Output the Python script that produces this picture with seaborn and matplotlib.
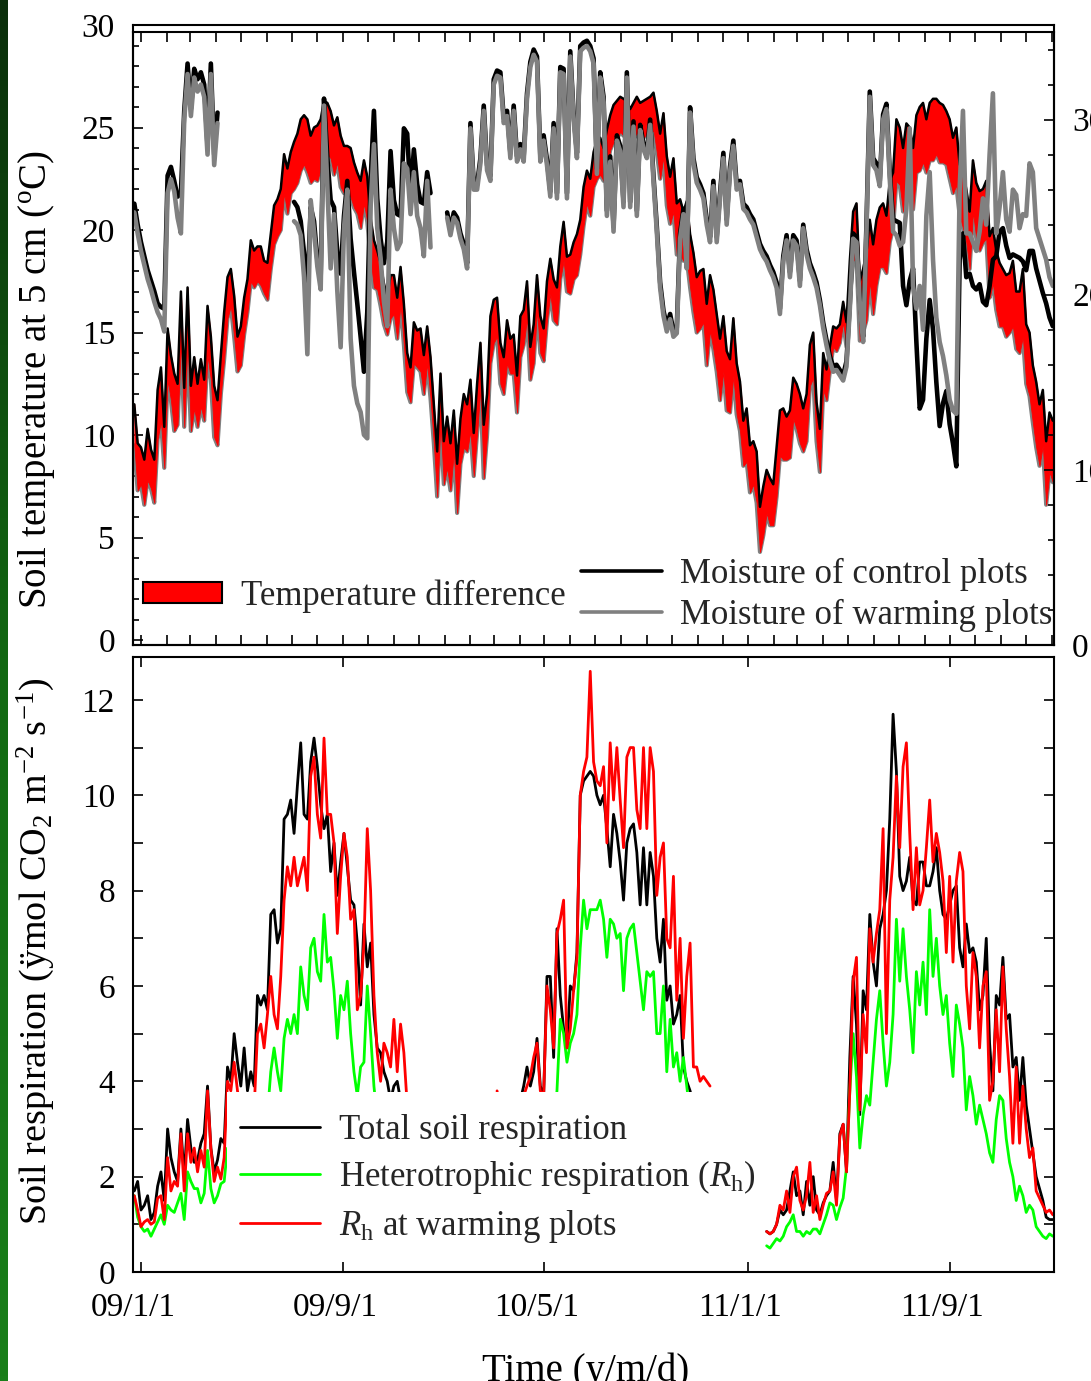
import numpy as np
import pandas as pd
import matplotlib
matplotlib.use("Agg")
import matplotlib.pyplot as plt
import matplotlib.dates as mdates
from matplotlib.ticker import MultipleLocator, NullFormatter
from matplotlib.patches import Patch, Rectangle
from matplotlib.lines import Line2D
from matplotlib.transforms import ScaledTranslation
from matplotlib.colors import LinearSegmentedColormap
import seaborn as sns

nan = np.nan

# ---------------- data (sampled every 4 days from 2008-12-24) ----------------
grid_start = "2008-12-24"
step = "4D"

# soil temperature at 5 cm, warming plots (upper edge of band), deg C
temp_warm = [
    11.5, 9.6, 9.4, 8.8, 10.3, 9.3, 8.8, 12.2, 13.3, 10.4,
    15.2, 13.9, 13.0, 12.5, 17.0, 12.3, 17.2, 12.4, 13.8, 12.5,
    13.7, 12.7, 16.3, 14.8, 12.4, 11.7, 13.9, 16.0, 17.7, 18.1,
    16.8, 14.8, 15.3, 16.7, 17.6, 19.5, 19.0, 19.2, 19.2, 18.5,
    18.4, 19.8, 21.2, 21.5, 22.0, 23.7, 23.0, 23.8, 24.3, 24.7,
    25.4, 25.6, 25.4, 24.6, 25.0, 25.1, 25.4, 26.3, 26.2, 25.8,
    25.1, 25.5, 24.6, 24.1, 24.1, 24.0, 23.3, 22.8, 22.4, 23.4,
    22.6, 20.6, 19.5, 19.0, 18.4, 17.4, 16.7, 17.8, 17.8, 16.7,
    18.2, 16.4, 14.0, 13.3, 15.5, 15.1, 15.2, 13.9, 15.3, 13.8,
    11.5, 9.2, 13.0, 9.7, 10.9, 9.6, 11.2, 8.6, 10.8, 12.0,
    11.5, 12.7, 10.1, 12.5, 14.5, 10.5, 12.0, 15.8, 16.6, 16.7,
    14.5, 13.8, 15.6, 14.7, 14.9, 12.9, 15.8, 16.1, 17.5, 14.3,
    15.4, 17.8, 15.8, 15.2, 17.5, 18.6, 17.6, 17.2, 19.2, 20.4,
    18.7, 18.8, 19.4, 19.8, 20.5, 22.1, 22.9, 22.5, 23.8, 24.4,
    24.5, 24.0, 24.9, 25.6, 26.1, 26.3, 26.5, 26.4, 26.3, 25.9,
    26.2, 26.5, 26.2, 26.3, 26.4, 26.5, 26.7, 25.8, 24.7, 25.7,
    23.6, 22.6, 23.5, 21.3, 21.5, 20.9, 21.4, 19.8, 18.9, 17.7,
    18.0, 18.1, 16.4, 17.8, 17.1, 15.9, 14.7, 15.8, 14.1, 13.7,
    15.7, 13.5, 12.6, 10.7, 11.3, 9.5, 9.7, 9.2, 6.5, 7.5,
    8.3, 7.9, 7.6, 9.4, 11.2, 11.3, 10.9, 11.2, 12.8, 12.5,
    12.0, 11.3, 12.0, 14.4, 15.0, 11.6, 10.3, 14.0, 13.2, 14.3,
    15.3, 15.2, 15.4, 16.5, 15.5, 18.5, 20.9, 21.3, 17.5, 18.1,
    18.9, 20.5, 19.3, 20.5, 21.1, 21.3, 20.7, 22.4, 22.8, 25.4,
    25.0, 24.0, 25.2, 25.0, 24.0, 25.6, 26.0, 26.2, 25.4, 26.2,
    26.4, 26.4, 26.2, 26.1, 25.8, 25.4, 24.5, 25.0, 23.2, 22.8,
    22.0, 20.9, 23.4, 22.3, 21.9, 22.0, 22.4, 19.7, 20.1, 19.0,
    18.4, 18.1, 17.8, 17.9, 18.5, 17.0, 17.0, 18.1, 15.4, 15.0,
    13.4, 12.6, 11.5, 12.2, 9.7, 11.1, 10.7,
]

# temperature difference, warming minus control, deg C
temp_diff = [
    2.0, 2.3, 1.8, 2.2, 2.5, 1.9, 2.1, 2.4, 2.6, 2.0,
    2.5, 2.2, 2.8, 2.0, 2.4, 1.9, 2.6, 2.2, 2.5, 2.1,
    2.3, 2.0, 2.4, 2.1, 2.5, 2.2, 1.9, 2.3, 2.0, 1.8,
    2.0, 1.7, 1.9, 1.8, 1.6, 2.0, 1.8, 1.7, 1.9, 1.6,
    1.8, 1.7, 1.9, 1.8, 2.0, 1.9, 2.2, 2.0, 2.3, 2.4,
    2.5, 2.4, 2.6, 2.3, 2.5, 2.7, 2.4, 2.6, 2.5, 2.3,
    2.4, 2.2, 2.5, 2.3, 2.1, 2.4, 2.2, 2.0, 2.3, 2.1,
    2.2, 2.0, 2.3, 1.9, 2.1, 2.0, 1.8, 2.1, 1.9, 2.0,
    1.8, 2.0, 1.9, 1.7, 2.0, 1.8, 2.1, 1.9, 1.8, 2.0,
    1.9, 2.2, 2.4, 2.1, 2.5, 2.3, 2.0, 2.4, 2.2, 2.6,
    2.3, 2.5, 2.1, 2.4, 2.2, 2.6, 2.0, 2.3, 2.1, 1.9,
    2.0, 1.8, 2.1, 1.7, 1.9, 1.8, 2.0, 1.7, 1.8, 1.6,
    1.9, 1.7, 1.8, 1.6, 1.9, 1.7, 2.0, 1.8, 1.6, 1.9,
    1.7, 1.9, 1.8, 2.0, 1.7, 1.9, 1.6, 1.8, 1.7, 1.9,
    1.8, 1.6, 1.9, 1.7, 1.8, 1.9, 1.7, 1.8, 1.6, 1.9,
    1.8, 1.7, 1.9, 1.8, 1.7, 1.9, 1.8, 2.0, 2.2, 2.1,
    2.4, 2.3, 2.6, 2.5, 2.7, 2.4, 2.8, 2.6, 2.9, 2.7,
    2.8, 2.6, 3.0, 2.7, 2.9, 2.8, 3.0, 2.7, 2.9, 2.6,
    2.8, 2.5, 2.4, 2.2, 2.6, 2.3, 2.1, 2.5, 2.2, 2.4,
    2.1, 2.3, 2.0, 2.4, 2.2, 2.5, 2.1, 2.3, 2.0, 2.2,
    2.4, 2.1, 2.3, 2.0, 2.2, 1.9, 2.1, 1.8, 1.5, 1.2,
    1.0, 1.1, 0.9, 1.0, 1.2, 1.8, 2.4, 2.6, 2.9, 3.1,
    3.3, 3.0, 3.4, 3.2, 2.9, 3.1, 2.8, 3.0, 2.7, 3.0,
    2.8, 3.1, 2.9, 2.7, 3.0, 2.8, 3.1, 2.9, 2.6, 2.8,
    3.0, 2.7, 2.9, 2.8, 2.6, 2.9, 2.7, 2.8, 2.5, 2.7,
    2.6, 2.8, 2.5, 2.7, 2.9, 2.6, 2.8, 3.0, 2.7, 2.9,
    3.1, 2.8, 3.0, 2.9, 3.2, 2.8, 3.0, 3.3, 2.9, 3.1,
    2.8, 3.2, 3.0, 2.7, 3.1, 2.9, 3.0,
]

# soil moisture (%), control plots
moist_ctrl = (
    [25.2, 24.0, 23.0, 22.2, 21.4, 20.8, 20.2, 19.5, 19.3, 19.2,
     26.8, 27.3, 26.5, 25.6, 25.8, 30.5, 33.2, 30.6, 32.9, 32.3,
     32.7, 32.0, 28.5, 33.2, 28.0, 30.4]
    + [nan] * 22
    + [25.3, 25.0, 24.2, 22.4, 20.2, 25.0, 24.2, 22.0, 21.0, 31.2,
       27.8, 25.4, 25.0, 22.4, 21.2, 24.5, 26.5, 23.2, 21.3, 19.5,
       17.6, 15.6, 19.0, 26.5, 30.5, 25.5, 23.2, 21.8, 23.0, 28.2,
       25.4, 24.6, 24.5, 29.5, 29.2, 25.6, 28.3, 26.3, 25.3, 25.2, 27.0, 25.8]
    + [nan] * 4
    + [24.7, 23.7, 24.7, 24.4, 23.5, 22.9, 21.8, 29.8, 26.3, 26.3,
       27.8, 30.8, 27.4, 26.8, 32.3, 32.8, 32.7, 30.1, 30.5, 28.1,
       30.8, 27.9, 28.6, 27.9, 31.5, 33.3, 34.0, 33.6, 27.9, 29.1,
       27.7, 25.9, 29.8, 25.8, 33.0, 32.9, 25.8, 33.9, 30.3, 28.1,
       34.2, 34.4, 34.5, 34.2, 33.5, 27.2, 32.7, 31.3, 24.8, 27.9,
       23.9, 29.1, 28.5, 25.3, 32.7, 25.3, 29.9, 24.8, 29.7, 28.6,
       28.1, 30.0, 26.8, 23.9, 20.7, 19.1, 18.2, 18.9, 17.9, 18.1,
       23.5, 24.9, 21.8, 30.7, 27.8, 26.7, 26.3, 25.8, 24.3, 23.3,
       26.5, 23.3, 25.8, 28.1, 24.3, 27.3, 28.8, 26.3,
       26.5, 25.2, 25.0, 24.6, 24.3, 23.6, 22.9, 22.5, 22.2, 21.7,
       21.3, 20.7, 19.2, 22.2, 23.4, 21.3, 23.4, 23.1, 20.8, 24.0,
       22.6, 21.8, 21.3, 20.7, 19.7, 18.4, 17.4, 16.5, 15.9, 16.0,
       15.7, 15.4, 16.2, 19.5, 23.5, 23.3, 19.8, 17.6, 24.0, 31.6,
       27.8, 27.5, 26.5, 30.3, 30.9, 27.0, 24.3, 24.2, 24.1, 20.5,
       19.4, 20.8, 21.5, 17.3, 13.5, 14.0, 17.5, 19.7, 18.0, 15.0,
       12.5, 13.8, 14.5, 12.6, 11.5, 10.2, 22.0, 23.5, 21.0, 21.2,
       20.5, 20.3, 20.6, 19.6, 19.4, 20.5, 22.0, 22.2, 23.6, 23.8,
       22.8, 22.1, 22.3, 22.2, 22.1, 21.9, 21.4, 22.5, 22.5, 21.5,
       20.8, 20.1, 19.5, 18.7, 18.2]
)

# soil moisture (%), warming plots
moist_warm = (
    [24.7, 23.5, 22.5, 21.7, 20.9, 20.3, 19.6, 19.0, 18.6, 17.9,
     25.8, 26.6, 25.9, 24.4, 23.5, 30.0, 32.6, 30.2, 32.4, 31.6,
     32.0, 31.3, 28.0, 32.6, 27.4, 29.8]
    + [nan] * 22
    + [24.2, 24.0, 23.4, 21.0, 16.6, 25.4, 23.6, 21.6, 20.3, 30.8,
       26.2, 21.5, 24.6, 20.2, 17.0, 23.8, 26.0, 17.5, 14.8, 13.8,
       13.3, 12.0, 11.8, 25.0, 28.6, 23.8, 22.1, 19.6, 18.2, 26.0,
       23.8, 22.6, 23.0, 27.5, 27.2, 24.6, 27.0, 24.5, 23.8, 22.2, 26.5, 22.7]
    + [nan] * 4
    + [24.4, 23.4, 24.4, 24.1, 23.2, 22.6, 21.5, 29.5, 26.0, 26.0,
       27.5, 30.5, 27.1, 26.5, 32.0, 32.5, 32.4, 29.8, 30.2, 27.8,
       30.5, 27.6, 28.3, 27.6, 31.2, 33.0, 33.7, 33.3, 27.6, 28.8,
       27.4, 25.6, 29.5, 25.5, 32.7, 32.6, 25.5, 33.6, 30.0, 27.8,
       33.9, 34.1, 34.2, 33.9, 33.2, 26.9, 32.4, 31.0, 24.5, 27.6,
       23.6, 28.8, 28.2, 25.0, 32.4, 25.0, 29.6, 24.5, 29.4, 28.3,
       27.8, 29.7, 26.5, 23.6, 20.4, 18.8, 17.9, 18.6, 17.6, 17.8,
       23.2, 24.6, 21.5, 30.4, 27.5, 26.4, 26.0, 25.5, 24.0, 23.0,
       26.2, 23.0, 25.5, 27.8, 24.0, 27.0, 28.5, 26.0,
       26.3, 24.9, 24.7, 24.3, 24.0, 23.3, 22.6, 22.2, 21.9, 21.4,
       21.0, 20.4, 18.9, 21.9, 23.1, 21.0, 23.1, 22.8, 20.5, 23.8,
       22.3, 21.5, 21.0, 20.4, 19.4, 18.1, 17.1, 16.2, 15.6, 15.7,
       15.4, 15.1, 15.9, 19.2, 23.2, 23.0, 19.5, 17.3, 23.6, 31.3,
       27.4, 27.1, 26.2, 30.0, 30.6, 26.6, 23.6, 23.4, 22.8, 23.0,
       24.9, 29.5, 20.5, 19.2, 20.5, 18.0, 24.5, 27.0, 22.0, 18.7,
       17.3, 16.5, 15.4, 14.0, 13.4, 13.2, 26.0, 30.5, 23.5, 23.5,
       23.0, 22.5, 23.6, 25.5, 24.0, 28.0, 31.5, 23.5, 25.0, 27.0,
       24.3, 23.6, 26.0, 25.7, 23.8, 24.6, 24.5, 27.5, 27.0, 23.8,
       23.2, 22.6, 22.0, 21.0, 20.5]
)

# soil respiration (umol CO2 m-2 s-1), three measuring campaigns
resp_starts = ["2008-12-24", "2010-03-05", "2011-01-23"]

total_09 = [1.7, 1.9, 1.3, 1.4, 1.6, 1.1, 1.25, 1.8, 2.1, 1.5,
            3.0, 2.4, 2.1, 1.9, 3.0, 2.0, 3.2, 2.6, 2.3, 2.35,
            2.7, 2.9, 3.9, 2.6, 2.1, 2.35, 2.8, 2.7, 4.3, 4.0,
            5.0, 4.4, 3.9, 4.7, 3.8, 4.2, 3.9, 5.8, 5.6, 5.8,
            5.5, 7.5, 7.6, 6.9, 7.2, 9.5, 9.6, 9.9, 9.2, 10.2,
            11.1, 9.6, 9.5, 10.7, 11.2, 10.6, 9.8, 9.3, 9.6, 8.4,
            9.0, 7.9, 8.6, 9.2, 8.5, 7.8, 7.7, 6.9, 5.6, 7.3,
            6.4, 6.9, 5.4, 4.7, 4.6, 4.2, 4.0, 3.6, 3.9, 4.0,
            3.6, 3.7, 3.5]
rh_09 = [1.6, 1.15, 0.95, 0.85, 0.9, 0.75, 0.9, 1.05, 1.2, 1.0,
         1.4, 1.3, 1.25, 1.45, 1.65, 1.1, 2.1, 1.9, 1.75, 1.75,
         1.45, 1.65, 2.55, 1.75, 1.45, 1.6, 1.85, 1.9, 2.6, 2.4,
         2.9, 2.6, 2.4, 2.8, 2.5, 2.7, 2.6, 3.4, 3.2, 3.5,
         3.3, 4.2, 4.7, 4.2, 3.8, 4.9, 5.3, 5.0, 5.4, 5.0,
         6.4, 5.8, 5.5, 6.8, 7.0, 6.3, 6.1, 7.5, 6.5, 6.6,
         5.9, 4.9, 5.8, 5.5, 6.1, 5.0, 4.2, 3.7, 4.3, 4.4,
         6.0, 5.0, 3.9, 3.2, 3.0, 3.3, 3.1, 2.9, 3.4, 2.8,
         3.3, 3.0, 2.6]
rhw_09 = [1.6, 1.3, 0.95, 1.05, 1.1, 1.0, 1.05, 1.55, 1.6, 1.1,
          2.4, 1.7, 1.9, 1.8, 2.9, 1.7, 2.9, 2.3, 2.6, 2.1,
          2.55, 2.2, 3.8, 2.6, 1.9, 2.2, 1.95, 2.4, 4.0, 3.8,
          4.4, 3.8, 3.4, 3.6, 3.3, 3.5, 3.4, 5.0, 5.2, 4.7,
          5.4, 6.2, 5.4, 5.1, 6.2, 7.8, 8.5, 8.1, 8.7, 8.1,
          8.4, 8.7, 8.0, 10.4, 10.8, 9.6, 9.1, 11.2, 9.6, 9.6,
          9.0, 7.1, 8.3, 9.2, 8.7, 7.4, 7.6, 5.5, 5.8, 6.9,
          9.3, 8.0, 5.8, 4.6, 4.0, 4.8, 4.6, 4.3, 5.3, 4.2,
          5.2, 4.6, 3.5]

total_10 = [3.0, 3.4, 3.2, 3.6, 3.3, 3.5, 3.7, 3.6, 3.9, 4.3,
            3.9, 4.2, 4.9, 3.9, 3.7, 6.2, 6.2, 4.5, 7.2, 5.8,
            5.1, 4.7, 6.0, 5.9, 6.7, 10.0, 10.3, 10.4, 10.5, 10.4,
            10.0, 9.8, 10.0, 9.3, 8.5, 9.6, 9.2, 8.6, 7.8, 9.0,
            9.3, 9.4, 8.8, 7.7, 8.9, 7.7, 8.8, 8.3, 7.0, 6.5,
            7.4, 5.7, 6.0, 5.2, 5.4, 5.8, 4.3, 4.0, 3.8, 3.5,
            3.3, 3.4, 3.1, 3.2, 3.0]
rh_10 = [2.2, 2.5, 2.3, 2.6, 2.4, 2.5, 2.7, 2.6, 2.8, 3.0,
         2.9, 3.1, 3.4, 2.9, 2.8, 3.5, 3.3, 3.1, 3.8, 5.3,
         5.0, 4.4, 4.8, 5.0, 5.4, 6.8, 7.8, 7.2, 7.6, 7.6,
         7.6, 7.8, 7.4, 6.6, 7.4, 7.3, 7.0, 7.1, 5.9, 7.0,
         7.2, 7.3, 6.7, 6.1, 5.5, 6.3, 6.2, 6.3, 5.0, 5.0,
         6.0, 4.2, 5.3, 4.3, 4.6, 4.0, 4.5, 3.9, 3.3, 3.0,
         2.9, 2.7, 2.8, 2.6, 2.5]
rhw_10 = [3.8, 3.3, 3.0, 3.5, 3.2, 3.4, 3.6, 3.5, 3.7, 3.9,
          4.1, 4.5, 4.8, 3.8, 3.7, 6.0, 5.5, 4.7, 7.1, 7.4,
          7.8, 4.7, 5.1, 5.9, 6.6, 10.0, 10.5, 10.8, 12.6, 10.7,
          10.3, 10.2, 10.6, 9.0, 11.1, 9.9, 11.0, 9.9, 8.9, 10.8,
          11.0, 11.0, 9.7, 9.3, 11.0, 9.3, 11.0, 10.5, 7.9, 8.7,
          9.0, 7.0, 6.8, 8.3, 5.7, 7.0, 4.9, 6.2, 6.9, 4.3,
          4.3, 4.0, 4.1, 4.0, 3.9]

total_11 = [0.85, 0.8, 0.85, 1.0, 1.3, 1.2, 1.3, 1.7, 2.1, 1.6,
            1.7, 1.2, 1.9, 1.4, 2.0, 1.3, 1.2, 1.45, 1.6, 1.7,
            2.3, 1.5, 2.9, 3.1, 2.1, 4.5, 6.2, 5.2, 3.3, 5.9,
            5.5, 7.5, 6.5, 6.0, 7.2, 7.5, 8.0, 9.5, 11.7, 10.5,
            8.3, 8.0, 8.2, 8.7, 7.8, 7.7, 8.6, 8.6, 8.1, 8.1,
            8.4, 8.9, 8.0, 7.5, 7.4, 7.7, 8.0, 8.1, 6.8, 6.4,
            7.3, 6.7, 6.8, 6.5, 5.5, 5.8, 7.0, 4.8, 3.8, 5.8,
            5.6, 6.6, 5.3, 5.4, 4.3, 4.5, 3.6, 4.5, 3.5, 3.0,
            2.5, 2.0, 1.75, 1.5, 1.15, 1.1, 1.1]
rh_11 = [0.55, 0.5, 0.6, 0.7, 0.65, 0.75, 0.95, 1.05, 1.2, 0.85,
         0.85, 0.75, 0.85, 0.8, 0.9, 0.9, 0.8, 1.0, 1.2, 1.45,
         1.4, 1.1, 1.35, 1.55, 2.2, 3.8, 5.0, 4.1, 2.6, 3.3,
         3.7, 3.5, 4.4, 5.3, 5.9, 4.8, 3.9, 4.4, 5.4, 7.4,
         6.1, 7.2, 6.2, 5.5, 4.6, 6.3, 5.6, 6.5, 5.4, 7.6,
         6.2, 7.0, 6.0, 5.4, 5.8, 4.8, 4.1, 5.6, 5.2, 4.7,
         3.4, 4.1, 3.7, 3.1, 3.5, 3.2, 2.9, 2.5, 2.3, 3.2,
         3.7, 3.6, 2.8, 2.3, 2.0, 1.5, 1.8, 1.6, 1.25, 1.4,
         1.3, 0.95, 0.85, 0.75, 0.7, 0.8, 0.75]
rhw_11 = [0.85, 0.8, 0.85, 1.0, 1.4, 1.3, 1.7, 1.25, 2.0, 2.2,
          1.5, 1.3, 1.6, 2.3, 1.25, 1.6, 1.1, 1.4, 1.65, 1.7,
          2.1, 1.4, 2.85, 3.1, 2.1, 3.8, 6.1, 6.6, 3.4, 5.4,
          4.6, 7.2, 6.5, 7.1, 7.6, 9.3, 5.0, 7.8, 8.7, 10.4,
          8.9, 10.6, 11.1, 9.2, 7.6, 8.9, 7.7, 8.0, 8.9, 9.9,
          8.6, 9.2, 8.8, 8.2, 6.7, 8.3, 6.5, 8.2, 8.8, 8.4,
          6.0, 5.1, 6.7, 6.2, 4.7, 6.0, 6.3, 3.6, 4.0, 5.5,
          4.2, 6.4, 5.1, 4.1, 2.7, 4.3, 2.7, 3.9, 3.0, 2.4,
          2.6, 1.7, 1.55, 1.4, 1.25, 1.3, 1.2]

xtick_dates = ["2009-01-01", "2009-09-01", "2010-05-01", "2011-01-01", "2011-09-01"]
xtick_labels = ["09/1/1", "09/9/1", "10/5/1", "11/1/1", "11/9/1"]

# ---------------- style ----------------
sns.set_theme(style="white")
plt.rcParams["font.family"] = ["Liberation Serif", "DejaVu Serif"]
plt.rcParams["mathtext.fontset"] = "custom"
plt.rcParams["mathtext.rm"] = "Liberation Serif"
plt.rcParams["mathtext.it"] = "Liberation Serif:italic"
plt.rcParams["mathtext.bf"] = "Liberation Serif:bold"

FS = 24      # tick labels
FL = 25      # legend text
FA = 28      # axis titles
W, H = 1091, 1381
fig = plt.figure(figsize=(W / 100, H / 100), dpi=100)


def fx(px):
    return px / W


def fy(py):
    return 1 - py / H


L, R = 133, 1054
ax1 = fig.add_axes([fx(L), fy(645), (R - L) / W, (645 - 25) / H])
axr = fig.add_axes([fx(L), fy(645), (R - L) / W, (645 - 32) / H], sharex=ax1)
axr.patch.set_visible(False)
ax2 = fig.add_axes([fx(L), fy(1272), (R - L) / W, (1272 - 657) / H])

# ---------------- top panel: temperature ----------------
n = min(len(temp_warm), len(temp_diff))
tdates = pd.date_range(grid_start, periods=n, freq=step)
tw = np.array(temp_warm[:n], float)
tc = tw - np.array(temp_diff[:n], float)
df_t = pd.DataFrame({"date": tdates, "warm": tw, "ctrl": tc})

sns.lineplot(data=df_t, x="date", y="ctrl", color="#808080", lw=3.0, ax=ax1, legend=False, zorder=2)
ax1.fill_between(df_t["date"], df_t["ctrl"], df_t["warm"], facecolor="#ff0000",
                 edgecolor="#ff0000", lw=0.6, zorder=2.1)
sns.lineplot(data=df_t, x="date", y="warm", color="black", lw=1.8, ax=ax1, legend=False, zorder=2.2)

# moisture on the right axis
nm = min(len(moist_ctrl), len(moist_warm))
mdt = pd.date_range(grid_start, periods=nm, freq=step)
mc = np.array(moist_ctrl[:nm], float)
mw = np.array(moist_warm[:nm], float)
valid = ~np.isnan(mc) & ~np.isnan(mw)
seg = np.cumsum(np.r_[True, valid[1:] != valid[:-1]])
df_m = pd.DataFrame({"date": mdt, "ctrl": mc, "warm": mw, "seg": seg})[valid]
sns.lineplot(data=df_m, x="date", y="ctrl", units="seg", estimator=None, color="black",
             lw=3.3, ax=axr, legend=False)
sns.lineplot(data=df_m, x="date", y="warm", units="seg", estimator=None, color="#808080",
             lw=3.3, ax=axr, legend=False)

# ---------------- bottom panel: respiration ----------------
frames = []
for i, (st, tot, rh, rhw) in enumerate(zip(resp_starts, [total_09, total_10, total_11],
                                            [rh_09, rh_10, rh_11], [rhw_09, rhw_10, rhw_11])):
    m = min(len(tot), len(rh), len(rhw))
    frames.append(pd.DataFrame({"date": pd.date_range(st, periods=m, freq=step),
                                "total": tot[:m], "rh": rh[:m], "rhw": rhw[:m], "seg": i}))
df_r = pd.concat(frames, ignore_index=True)
for col, c in [("total", "black"), ("rh", "#00ff00"), ("rhw", "#ff0000")]:
    sns.lineplot(data=df_r, x="date", y=col, units="seg", estimator=None, color=c,
                 lw=2.0, ax=ax2, legend=False)

# ---------------- axes ----------------
x0 = pd.Timestamp("2008-12-22 10:00")
x1 = pd.Timestamp("2012-01-03 10:00")
ax1.set_xlim(x0, x1)
ax2.set_xlim(x0, x1)
ax1.set_ylim(-0.24, 30)
axr.set_ylim(0, 35.0)
ax2.set_ylim(0, 12.9)

ax1.xaxis.set_major_locator(mdates.MonthLocator())
ax1.xaxis.set_major_formatter(NullFormatter())
ax1.tick_params(axis="x", which="both", direction="in", bottom=True, top=False,
                labelbottom=False, labeltop=False, length=7.2, width=1.2, color="black")
axr.tick_params(axis="x", which="both", direction="in", bottom=False, top=True,
                labelbottom=False, labeltop=False, length=7.2, width=1.2, color="black")

ax1.yaxis.set_major_locator(MultipleLocator(5))
ax1.yaxis.set_minor_locator(MultipleLocator(1))
ax1.tick_params(axis="y", which="both", direction="in", left=True, right=False,
                labelsize=FS, pad=13, width=1.2, color="black", labelcolor="black")
ax1.tick_params(axis="y", which="major", length=7.2)
ax1.tick_params(axis="y", which="minor", length=4.3)

axr.yaxis.tick_right()
axr.yaxis.set_major_locator(MultipleLocator(10))
axr.yaxis.set_minor_locator(MultipleLocator(2))
axr.tick_params(axis="y", which="both", direction="in", left=False, right=True,
                labelleft=False, labelright=True, labelsize=FS, pad=13, width=1.2,
                color="black", labelcolor="black")
axr.tick_params(axis="y", which="major", length=7.2)
axr.tick_params(axis="y", which="minor", length=4.3)

ax2.set_xticks([mdates.date2num(pd.Timestamp(s)) for s in xtick_dates])
ax2.set_xticklabels(xtick_labels)
ax2.tick_params(axis="x", which="both", direction="in", top=True, bottom=True, length=7.2,
                width=1.2, labelsize=FS, pad=15, color="black", labelcolor="black")
ax2.yaxis.set_major_locator(MultipleLocator(2))
ax2.yaxis.set_minor_locator(MultipleLocator(1))
ax2.tick_params(axis="y", which="both", direction="in", left=True, right=True, length=7.2,
                width=1.2, labelsize=FS, pad=13, color="black", labelcolor="black")

offset = ScaledTranslation(-8 / 100, 0, fig.dpi_scale_trans)
for lab in ax2.get_xticklabels():
    lab.set_transform(lab.get_transform() + offset)

for ax in (ax1, axr, ax2):
    for s in ax.spines.values():
        s.set_color("black")
        s.set_linewidth(1.5)

ax1.set_xlabel("")
axr.set_xlabel("")
axr.set_ylabel("")
ax1.set_ylabel("Soil temperature at 5 cm ($^\\mathrm{o}$C)", fontsize=FA, color="black")
ax1.yaxis.set_label_coords((57 - L) / (R - L), (645 - 380) / 620)
ax2.set_ylabel("Soil respiration (ÿmol CO$_2$ m$^{-2}$ s$^{-1}$)", fontsize=FA * 0.98, color="black")
ax2.yaxis.set_label_coords((57 - L) / (R - L), (1272 - 951) / 615)
ax2.set_xlabel("Time (y/m/d)", fontsize=FA, color="black")
ax2.xaxis.set_label_coords((586 - L) / (R - L), -(1352 - 1272) / 615)

# ---------------- legends ----------------
h_t = [Patch(facecolor="#ff0000", edgecolor="black", lw=1.5, label="Temperature difference")]
leg1 = axr.legend(handles=h_t, loc="center left", bbox_to_anchor=(fx(143), fy(596)),
                  bbox_transform=fig.transFigure, frameon=False, fontsize=FL,
                  handlelength=2.28, handleheight=0.58, handletextpad=0.55,
                  borderpad=0, borderaxespad=0)
axr.add_artist(leg1)
h_m = [Line2D([], [], color="black", lw=2.6, label="Moisture of control plots"),
       Line2D([], [], color="#808080", lw=2.6, label="Moisture of warming plots")]
axr.legend(handles=h_m, loc="center left", bbox_to_anchor=(fx(581), fy(595)),
           bbox_transform=fig.transFigure, frameon=False, fontsize=FL,
           handlelength=2.33, handletextpad=0.52, labelspacing=0.22,
           borderpad=0, borderaxespad=0)

# white box behind the respiration legend (hides the data under it)
ax2.add_patch(Rectangle((fx(227), fy(1262)), (762 - 227) / W, (1262 - 1092) / H,
                        transform=fig.transFigure, facecolor="white", edgecolor="none",
                        zorder=4, clip_on=False))
h_r = [Line2D([], [], color="black", lw=2.0, label="Total soil respiration"),
       Line2D([], [], color="#00ff00", lw=2.0, label="Heterotrophic respiration ($R_\\mathrm{h}$)"),
       Line2D([], [], color="#ff0000", lw=2.0, label="$R_\\mathrm{h}$ at warming plots")]
ax2.legend(handles=h_r, loc="upper left", bbox_to_anchor=(fx(240), fy(1114)),
           bbox_transform=fig.transFigure, frameon=False, fontsize=FL,
           handlelength=2.3, handletextpad=0.55, labelspacing=0.33,
           borderpad=0, borderaxespad=0)

# dark green strip at the left edge of the picture
axg = fig.add_axes([0, 0, 7 / W, 1])
cmap = LinearSegmentedColormap.from_list("strip", ["#0a2e0a", "#126a12", "#1a7f1a"])
axg.imshow(np.linspace(0, 1, 256).reshape(-1, 1), aspect="auto", cmap=cmap)
axg.axis("off")

fig.savefig("out.png", dpi=100)
